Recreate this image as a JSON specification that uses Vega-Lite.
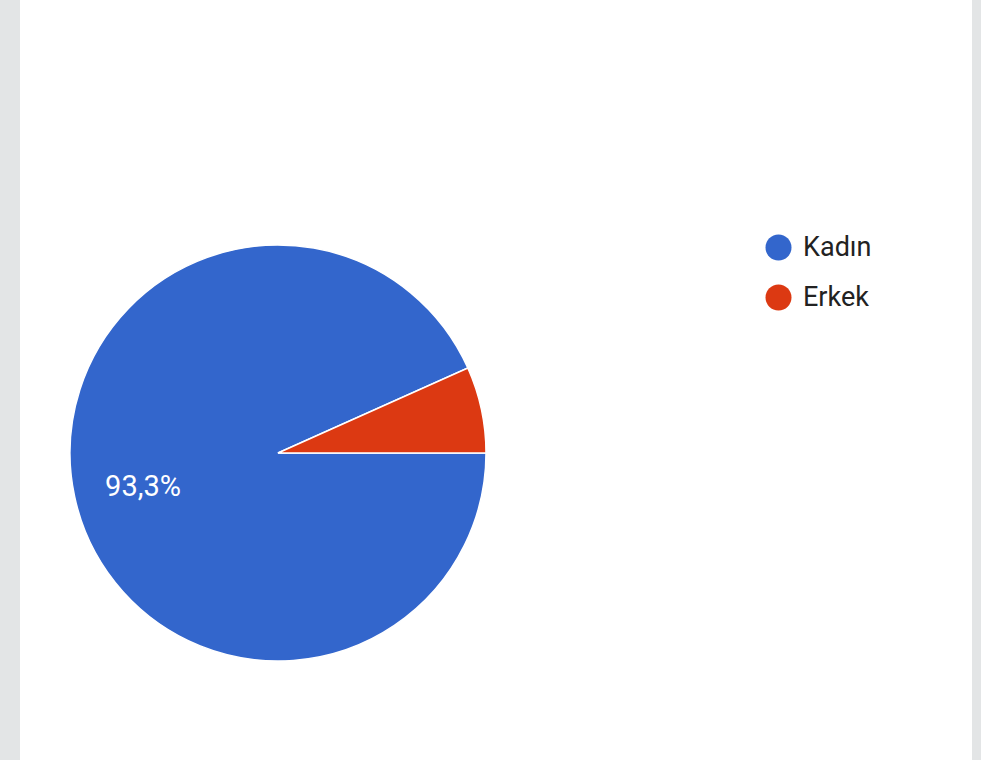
{
  "$schema": "https://vega.github.io/schema/vega-lite/v6.json",
  "width": 952,
  "height": 760,
  "autosize": "none",
  "padding": {"left": 20, "right": 9, "top": 0, "bottom": 0},
  "background": "#e3e5e6",
  "config": {
    "view": {"fill": "#ffffff", "stroke": null},
    "font": "Roboto"
  },
  "data": {
    "values": [
      {"gender": "Kadın", "share": 93.3, "order": 1, "label": "93,3%"},
      {"gender": "Erkek", "share": 6.7, "order": 2, "label": ""}
    ]
  },
  "encoding": {
    "theta": {
      "field": "share",
      "type": "quantitative",
      "stack": true,
      "scale": {"range": [1.5708, 7.8540]}
    },
    "order": {"field": "order", "type": "quantitative"},
    "x": {"value": 258},
    "y": {"value": 453}
  },
  "layer": [
    {
      "mark": {"type": "arc", "radius": 208, "stroke": "#ffffff", "strokeWidth": 1.5},
      "encoding": {
        "color": {
          "field": "gender",
          "type": "nominal",
          "scale": {"domain": ["Kadın", "Erkek"], "range": ["#3366cc", "#dc3912"]},
          "legend": {
            "title": null,
            "orient": "none",
            "legendX": 745,
            "legendY": 234,
            "padding": 0,
            "symbolType": "circle",
            "symbolSize": 676,
            "symbolStrokeWidth": 0,
            "symbolOpacity": 1,
            "labelFont": "Roboto",
            "labelFontSize": 27,
            "labelColor": "#222222",
            "labelOffset": 11,
            "rowPadding": 22
          }
        }
      }
    },
    {
      "mark": {
        "type": "text",
        "radius": 138,
        "dy": 5,
        "color": "#ffffff",
        "fontSize": 29,
        "font": "Roboto",
        "align": "center",
        "baseline": "middle"
      },
      "encoding": {
        "text": {"field": "label", "type": "nominal"}
      }
    }
  ]
}
